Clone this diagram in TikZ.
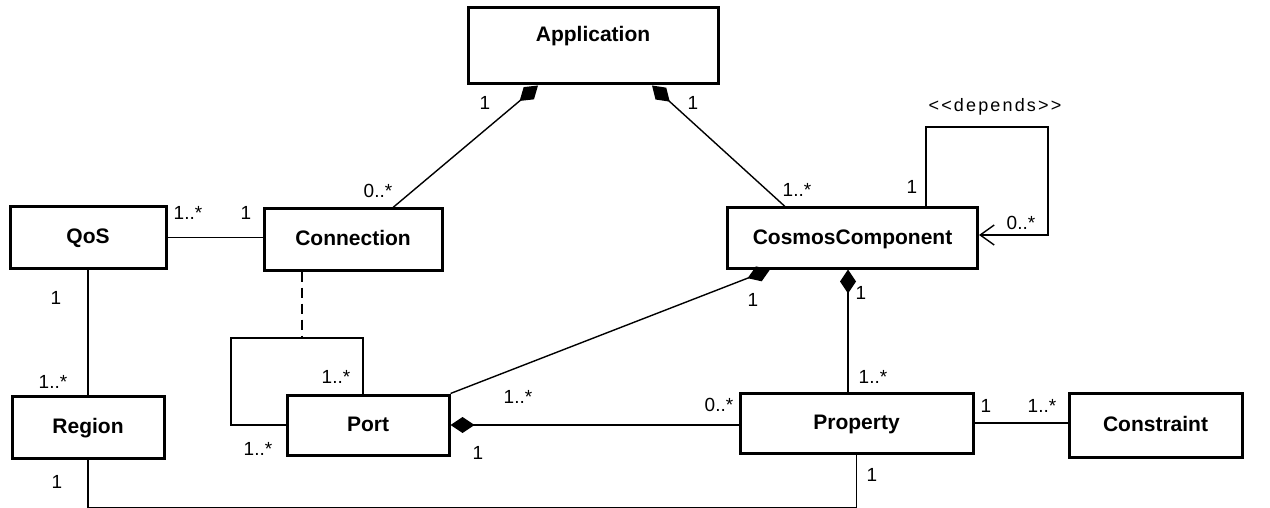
\documentclass[tikz,border=0pt]{standalone}
\usepackage{fontspec}
\setmainfont{Liberation Sans}
\usetikzlibrary{arrows.meta,calc}

\begin{document}
\begin{tikzpicture}[x=0.5pt,y=-0.5pt,
    cls/.style={draw,line width=1.5pt,inner sep=0pt,text height=8pt,text depth=2pt,
                font=\fontsize{10.5}{12}\selectfont\bfseries},
    mult/.style={inner sep=0pt,font=\fontsize{9.5}{10}\selectfont},
    assoc/.style={line width=0.7pt},
    comp/.style={assoc,{Diamond[length=12pt,width=8pt]}-}]
    \useasboundingbox (0,0) rectangle (1270,508);

    % classes
    \node[cls,minimum width=125pt,minimum height=38pt,text depth=12pt] (app) at (593,46) {Application};
    \node[cls,minimum width=78pt,minimum height=30.5pt] (qos) at (88,237.5) {QoS};
    \node[cls,minimum width=89pt,minimum height=30.5pt] (conn) at (353,239.5) {Connection};
    \node[cls,minimum width=125pt,minimum height=30pt] (cosmos) at (852.5,238) {CosmosComponent};
    \node[cls,minimum width=76pt,minimum height=31pt] (region) at (88,427) {Region};
    \node[cls,minimum width=81pt,minimum height=30pt] (port) at (368,425) {Port};
    \node[cls,minimum width=116.5pt,minimum height=30pt] (prop) at (856.5,423) {Property};
    \node[cls,minimum width=86.5pt,minimum height=32pt] (constr) at (1155.5,425) {Constraint};

    % compositions
    \draw[comp] ($(app.south)+(-55,0)$) -- ($(conn.north)+(40,0)$);
    \draw[comp] ($(app.south)+(59,0)$) -- ($(cosmos.north)+(-67.5,0)$);
    \draw[comp] ($(cosmos.south)+(-82.5,0)$) -- (port.north east);
    \draw[comp] ($(cosmos.south)+(-4.5,0)$) -- ($(prop.north)+(-8.5,0)$);
    \draw[comp] (port.east) -- (port.east -| prop.west);

    % associations
    \draw[assoc] (qos.east) -- (qos.east -| conn.west);
    \draw[assoc] (qos.south) -- (region.north);
    \draw[assoc] (prop.east) -- (prop.east -| constr.west);
    \draw[assoc] (region.south) |- ($(prop.south)+(0,53)$) -- (prop.south);

    % depends
    \coordinate (depcorner) at (1048,127);
    \draw[assoc,-{Straight Barb[length=7pt,width=10pt]}] ($(cosmos.north)+(73.5,0)$) |- (depcorner) |- ($(cosmos.east)+(0,-3)$);

    % port loop with association class
    \coordinate (loopcorner) at (231,338);
    \draw[assoc] ($(port.north)+(-5,0)$) |- (loopcorner) |- (port.west);
    \coordinate (assocclass) at ($(conn.south)+(-51,0)$);
    \draw[line width=1.2pt,dash pattern=on 5pt off 3pt] (assocclass) -- (assocclass |- loopcorner);

    % multiplicities
    \node[mult] (mAppConn) at (485,103) {1};
    \node[mult] (mConnApp) at (378,191) {0..*};
    \node[mult] (mAppCos) at (693,103) {1};
    \node[mult] (mCosApp) at (797,190) {1..*};
    \node[mult] (mDepSrc) at (912,187) {1};
    \node[mult] (mDepDst) at (1021,223) {0..*};
    \node[mult] (mQosConn) at (188,213) {1..*};
    \node[mult] (mConnQos) at (246,213) {1};
    \node[mult] (mQosReg) at (56,298) {1};
    \node[mult] (mRegQos) at (53,382) {1..*};
    \node[mult] (mRegProp) at (57,482) {1};
    \node[mult] (mPropReg) at (872,475) {1};
    \node[mult] (mLoopTop) at (336,377) {1..*};
    \node[mult] (mLoopLeft) at (258,449) {1..*};
    \node[mult] (mPortCos) at (518,397) {1..*};
    \node[mult] (mCosPort) at (753,300) {1};
    \node[mult] (mPortProp) at (478,453) {1};
    \node[mult] (mPropPort) at (719,405) {0..*};
    \node[mult] (mCosProp) at (861,293) {1};
    \node[mult] (mPropCos) at (873,377) {1..*};
    \node[mult] (mPropCon) at (986,406) {1};
    \node[mult] (mConProp) at (1042,406) {1..*};

    \node[mult,font=\fontsize{9}{10}\selectfont\addfontfeature{LetterSpace=12}] (deplabel) at (995,107) {<{}<depends>{}>};
\end{tikzpicture}
\end{document}
